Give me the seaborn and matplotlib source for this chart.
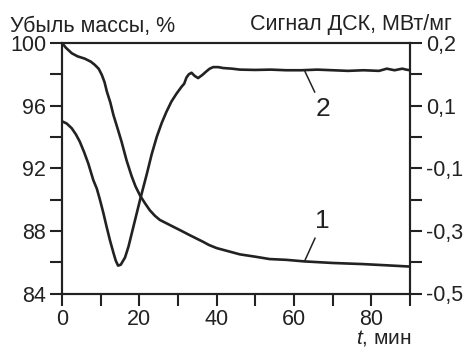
import numpy as np
import pandas as pd
import seaborn as sns
import matplotlib.pyplot as plt

# mass loss, % (curve 1)
t_mass = [0, 1, 2.5, 4, 5.9, 7.5, 8.5, 9.5, 10.3, 11, 11.6, 12.5, 13.3, 14.3,
          15.4, 16.7, 18, 19, 20.2, 21.5, 22.7, 24, 25.3, 28.8, 30.5, 33,
          36.5, 38, 40, 43, 46, 50, 53.7, 58, 62.7, 70, 77.7, 84, 90]
mass = [100, 99.7, 99.35, 99.15, 99.0, 98.8, 98.6, 98.35, 97.96, 97.5, 96.9,
        96.2, 95.4, 94.6, 93.7, 92.5, 91.5, 90.85, 90.25, 89.75, 89.32, 88.97,
        88.7, 88.26, 88.05, 87.73, 87.3, 87.1, 86.9, 86.7, 86.5, 86.35, 86.2,
        86.15, 86.05, 85.95, 85.88, 85.8, 85.72]

# DSC signal, mW/mg (curve 2)
t_dsc = [0, 1.2, 2.5, 3.6, 4.6, 5.7, 6.8, 8.1, 9.0, 9.8, 10.7, 11.5, 12.4,
         13.3, 13.9, 14.5, 15.2, 16.3, 17.2, 18.0, 19.1, 20.2, 21.9, 23.2,
         24.5, 25.8, 27.0, 28.3, 29.6, 30.9, 31.6, 32.2, 32.8, 33.5, 34.3,
         35.2, 36.3, 37.4, 38.2, 39.1, 40.4, 41.7, 44, 46, 50, 54, 58, 62,
         66, 70, 74, 78, 82, 84, 86, 88, 89, 90]
dsc = [0.05, 0.043, 0.028, 0.008, -0.015, -0.048, -0.085, -0.138, -0.165,
       -0.2, -0.243, -0.285, -0.33, -0.37, -0.395, -0.411, -0.408, -0.385,
       -0.35, -0.31, -0.255, -0.2, -0.12, -0.055, 0.0, 0.045, 0.08, 0.113,
       0.138, 0.16, 0.17, 0.19, 0.2, 0.205, 0.195, 0.188, 0.198, 0.21, 0.218,
       0.223, 0.223, 0.22, 0.218, 0.215, 0.214, 0.215, 0.213, 0.213, 0.215,
       0.213, 0.211, 0.213, 0.211, 0.218, 0.213, 0.218, 0.215, 0.213]

left_ticks = [84, 88, 92, 96, 100]
right_ticks = [-0.5, -0.3, -0.1, 0.1, 0.3]
right_labels = ['-0,5', '-0,3', '-0,1', '0,1', '0,2']
x_ticks = [0, 20, 40, 60, 80]

sns.set_style("ticks")
plt.rcParams['font.family'] = ['Liberation Sans', 'DejaVu Sans']
plt.rcParams['mathtext.fontset'] = 'custom'
plt.rcParams['mathtext.it'] = 'Liberation Sans:italic'
plt.rcParams['mathtext.rm'] = 'Liberation Sans'

ink = '#222222'
fs = 15.5

df_mass = pd.DataFrame({'t': t_mass, 'v': mass})
df_dsc = pd.DataFrame({'t': t_dsc, 'v': dsc})

fig = plt.figure(figsize=(4.67, 3.49), dpi=100)
ax1 = fig.add_axes([62 / 467, 1 - 293.5 / 349, (410 - 62) / 467, (293.5 - 43) / 349])
ax2 = ax1.twinx()

sns.lineplot(data=df_mass, x='t', y='v', ax=ax1, color=ink, linewidth=1.9)
sns.lineplot(data=df_dsc, x='t', y='v', ax=ax2, color=ink, linewidth=1.9)

ax1.set_xlim(0, 90)
ax1.set_ylim(84, 100)
ax2.set_ylim(-0.5, 0.3)

ax1.set_xticks(x_ticks)
ax1.set_xticks([10, 30, 50, 70, 90], minor=True)
ax1.set_yticks(left_ticks)
ax1.set_yticks([86, 90, 94, 98], minor=True)
ax2.set_yticks(right_ticks)
ax2.set_yticklabels(right_labels)
ax2.set_yticks([-0.4, -0.2, 0.0, 0.2], minor=True)

for ax in (ax1, ax2):
    ax.set_xlabel('')
    ax.set_ylabel('')
    for s in ax.spines.values():
        s.set_visible(True)
        s.set_color(ink)
        s.set_linewidth(1.5)
    ax.tick_params(which='both', direction='out', length=8.5, width=1.5,
                   color=ink, labelcolor=ink, labelsize=fs, pad=3)

ax1.annotate('1', xy=(62.8, 86.1), xytext=(67.4, 88.6), ha='center', va='center',
             fontsize=19, color=ink,
             arrowprops=dict(arrowstyle='-', color=ink, lw=1.1, shrinkA=1, shrinkB=0))
ax1.annotate('2', xy=(62.8, 98.2), xytext=(67.4, 95.8), ha='center', va='center',
             fontsize=19, color=ink,
             arrowprops=dict(arrowstyle='-', color=ink, lw=1.1, shrinkA=1, shrinkB=0))

fig.text(10 / 467, 1 - 32 / 349, 'Убыль массы, %', fontsize=fs, color=ink,
         ha='left', va='baseline')
fig.text(452 / 467, 1 - 30 / 349, 'Сигнал ДСК, МВт/мг', fontsize=fs, color=ink,
         ha='right', va='baseline')
fig.text(412 / 467, 1 - 344 / 349, '$t$, мин', fontsize=15, color=ink,
         ha='right', va='baseline')

fig.savefig('out.png', dpi=100)
